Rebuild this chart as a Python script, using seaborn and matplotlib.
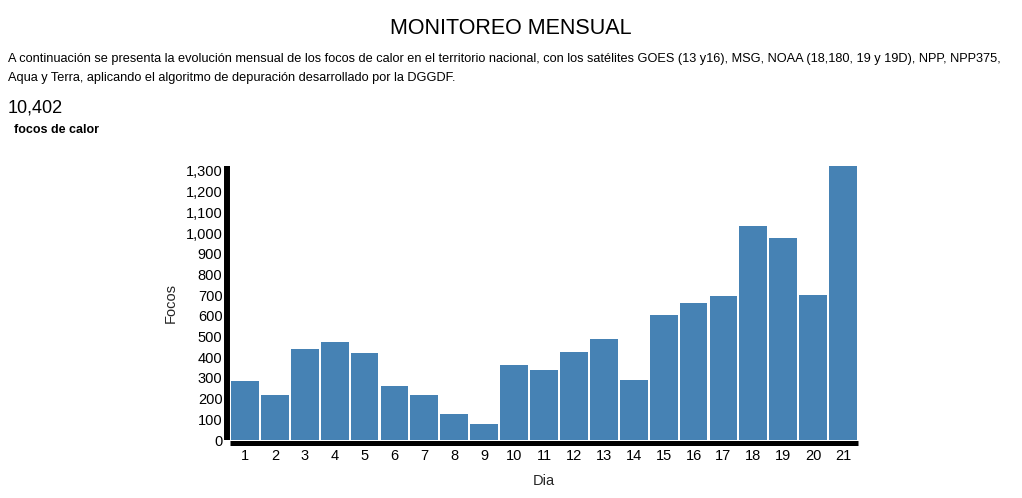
import matplotlib
matplotlib.use('Agg')
import matplotlib.pyplot as plt
from matplotlib.ticker import FuncFormatter, MultipleLocator
import pandas as pd
import seaborn as sns

# Data
dias = [str(d) for d in range(1, 22)]
focos = [285, 217, 440, 473, 420, 261, 217, 126, 77, 362, 338, 425, 488, 290,
         604, 662, 696, 1034, 976, 700, 1324]
total_focos = '10,402'

titulo = 'MONITOREO MENSUAL'
linea1 = ('A continuación se presenta la evolución mensual de los focos de calor en el territorio '
          'nacional, con los satélites GOES (13 y16), MSG, NOAA (18,180, 19 y 19D), NPP, NPP375,')
linea2 = 'Aqua y Terra, aplicando el algoritmo de depuración desarrollado por la DGGDF.'

sns.set_style('white')
plt.rcParams['font.family'] = ['Liberation Sans', 'DejaVu Sans']
plt.rcParams['text.color'] = '#000000'

W, H = 1022, 498
fig = plt.figure(figsize=(W / 100, H / 100), dpi=100)
ax = fig.add_axes([230 / W, 1 - 440 / H, 628 / W, 274 / H])

df = pd.DataFrame({'dia': dias, 'focos': focos})
sns.barplot(data=df, x='dia', y='focos', color='#4682b4', saturation=1,
            width=0.93, edgecolor='none', ax=ax)

ax.set_xlim(-0.5, len(dias) - 0.5)
ax.set_ylim(0, max(focos))
ax.yaxis.set_major_locator(MultipleLocator(100))
ax.yaxis.set_major_formatter(FuncFormatter(lambda v, p: f'{int(v):,}'))

for side in ['top', 'right']:
    ax.spines[side].set_visible(False)
ax.spines['left'].set_linewidth(4.3)
ax.spines['left'].set_position(('outward', 2.2))
ax.spines['left'].set_capstyle('butt')
ax.spines['bottom'].set_linewidth(3.6)
ax.spines['bottom'].set_position(('outward', 1.8))
ax.spines['bottom'].set_capstyle('butt')
for s in ['left', 'bottom']:
    ax.spines[s].set_color('black')

ax.tick_params(axis='both', length=0, labelsize=10.5, colors='black')
ax.tick_params(axis='y', pad=3.2)
ax.tick_params(axis='x', pad=4.5)

ax.set_xlabel('Dia', fontsize=10.5)
ax.set_ylabel('Focos', fontsize=10.5)
ax.xaxis.set_label_coords(0.5, -(481 - 440) / 274)
ax.xaxis.label.set_va('center')
ax.yaxis.set_label_coords(-(230 - 171) / 628, 0.5)
ax.yaxis.label.set_va('center')

fig.text(511 / W, 1 - 28 / H, titulo, ha='center', va='center', fontsize=15.5)
fig.text(8 / W, 1 - 59 / H, linea1, ha='left', va='center', fontsize=9.2)
fig.text(8 / W, 1 - 78 / H, linea2, ha='left', va='center', fontsize=9.2)
fig.text(8 / W, 1 - 108 / H, total_focos, ha='left', va='center', fontsize=13)
fig.text(14 / W, 1 - 130 / H, 'focos de calor', ha='left', va='center',
         fontsize=9, fontweight='bold')

fig.savefig('out.png', dpi=100)
